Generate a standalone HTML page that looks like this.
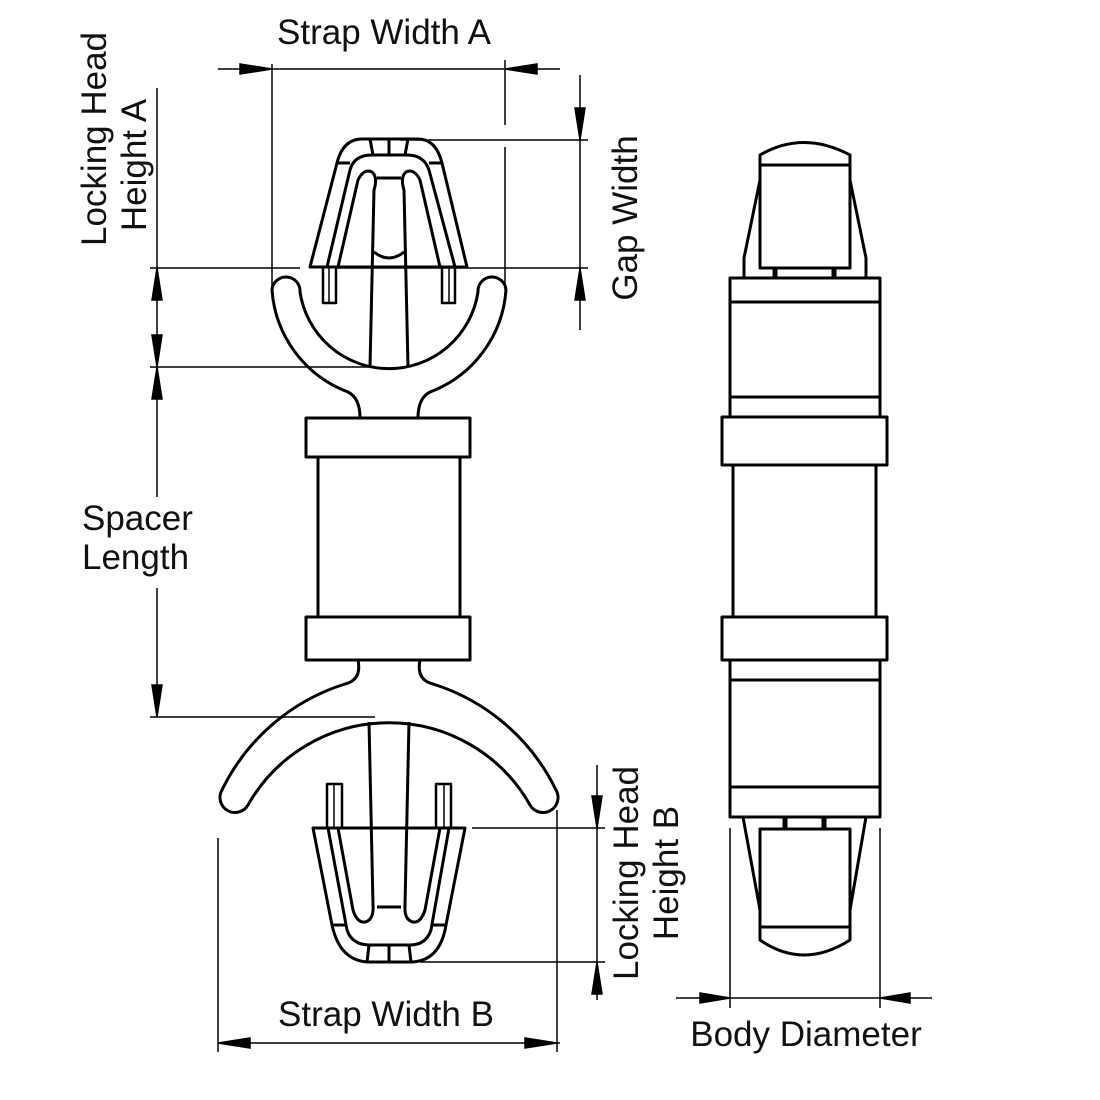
<!DOCTYPE html>
<html><head><meta charset="utf-8"><style>
html,body{margin:0;padding:0;background:#fff;width:1100px;height:1100px;overflow:hidden}
text{font-family:"Liberation Sans",sans-serif;font-size:35px;fill:#111}
</style></head><body>
<svg width="1100" height="1100" viewBox="0 0 1100 1100" xmlns="http://www.w3.org/2000/svg">
<g fill="none" stroke="#000" stroke-width="1.5">
<line x1="218" y1="69" x2="560" y2="69"/>
<line x1="272" y1="64" x2="272" y2="290"/>
<line x1="505" y1="60" x2="505" y2="125"/><line x1="505" y1="147" x2="505" y2="290"/>
<line x1="580" y1="75" x2="580" y2="330"/>
<line x1="400" y1="140" x2="588" y2="140"/>
<line x1="150" y1="268" x2="300" y2="268"/><line x1="335" y1="268" x2="588" y2="268"/>
<line x1="157" y1="88" x2="157" y2="497"/><line x1="157" y1="588" x2="157" y2="717"/>
<line x1="150" y1="367" x2="372" y2="367"/>
<line x1="150" y1="717" x2="375" y2="717"/>
<line x1="597" y1="765" x2="597" y2="1000"/>
<line x1="472" y1="828" x2="605" y2="828"/>
<line x1="420" y1="962" x2="605" y2="962"/>
<line x1="218" y1="1043" x2="560" y2="1043"/>
<line x1="218" y1="838" x2="218" y2="1052"/>
<line x1="557" y1="810" x2="557" y2="1052"/>
<line x1="730" y1="828" x2="730" y2="1008"/>
<line x1="880" y1="828" x2="880" y2="1008"/>
<line x1="676" y1="998" x2="932" y2="998"/>
</g>
<g stroke="#000" stroke-width="1.5" fill="#000">
<path d="M240,64 L272,69 L240,74z"/><path d="M537,64 L505,69 L537,74z"/>
<path d="M575,108 L580,140 L585,108z"/><path d="M575,300 L580,268 L585,300z"/>
<path d="M152,300 L157,268 L162,300z"/><path d="M152,335 L157,367 L162,335z"/>
<path d="M152,399 L157,367 L162,399z"/><path d="M152,685 L157,717 L162,685z"/>
<path d="M592,796 L597,828 L602,796z"/><path d="M592,994 L597,962 L602,994z"/>
<path d="M250,1038 L218,1043 L250,1048z"/><path d="M525,1038 L557,1043 L525,1048z"/>
<path d="M700,993 L730,998 L700,1003z"/><path d="M910,993 L880,998 L910,1003z"/>
</g>
<text x="384" y="44" text-anchor="middle">Strap Width A</text>
<text x="386" y="1026" text-anchor="middle">Strap Width B</text>
<text x="806" y="1046" text-anchor="middle">Body Diameter</text>
<text x="82" y="530">Spacer</text>
<text x="82" y="569">Length</text>
<text transform="translate(106,139) rotate(-90)" text-anchor="middle">Locking Head</text>
<text transform="translate(146,165) rotate(-90)" text-anchor="middle">Height A</text>
<text transform="translate(637,218) rotate(-90)" text-anchor="middle">Gap Width</text>
<text transform="translate(638,873) rotate(-90)" text-anchor="middle">Locking Head</text>
<text transform="translate(678,873) rotate(-90)" text-anchor="middle">Height B</text>

<g fill="none" stroke="#000" stroke-width="3" stroke-linejoin="round">
<path d="M310,267 L337,163 Q343,139 362,139 L418,139 Q436,139 442,163 L467,267 Z"/>
<path d="M327,267 L350,170 Q354,155 372,155 L407,155 Q424,155 429,170 L455,267"/>
<line x1="337" y1="163" x2="350" y2="163"/><line x1="429" y1="163" x2="442" y2="163"/>
<line x1="370" y1="139" x2="373" y2="155"/><line x1="389" y1="139" x2="389" y2="155"/><line x1="408" y1="139" x2="405" y2="155"/>
<path d="M338,267 L358,180 Q364,168 372,172 Q378,177 374,190 L370,367"/>
<path d="M440,267 L420,180 Q414,168 406,172 Q400,177 404,190 L408,367"/>
<line x1="377" y1="178" x2="401" y2="178"/>
<path d="M374,252 Q389,264 404,252"/>
<rect x="323" y="267" width="13" height="36" stroke-width="2.5"/>
<rect x="442" y="267" width="13" height="36" stroke-width="2.5"/>
<line x1="329" y1="267" x2="329" y2="303" stroke-width="1.5"/><line x1="449" y1="267" x2="449" y2="303" stroke-width="1.5"/>
<path d="M300,292 A90,90 0 0 0 478,292 A14,14 0 0 1 506,290 A118,118 0 0 1 430,392 Q418,398 418,418 L360,418 Q360,398 348,392 A118,118 0 0 1 272,290 A14,14 0 0 1 300,292 Z"/>
<rect x="306" y="418" width="164" height="39"/>
<rect x="318" y="457" width="142" height="160"/>
<rect x="306" y="617" width="164" height="43"/>
<path d="M358,660 Q362,680 345,684 A205,205 0 0 0 222,790 A14,14 0 0 0 248,805 A162,162 0 0 1 530,805 A14,14 0 0 0 556,790 A205,205 0 0 0 433,684 Q416,680 420,660"/>
<path d="M313,828 L332,925 Q340,962 370,962 L410,962 Q440,962 446,925 L465,828 Z"/>
<path d="M328,828 L347,930 Q352,945 370,945 L410,945 Q426,945 431,930 L449,828"/>
<line x1="332" y1="925" x2="347" y2="925"/><line x1="431" y1="925" x2="446" y2="925"/>
<line x1="369" y1="945" x2="367" y2="962"/><line x1="389" y1="945" x2="389" y2="962"/><line x1="409" y1="945" x2="411" y2="962"/>
<path d="M338,828 L353,910 Q357,923 365,922 Q374,920 373,905 L369,722"/>
<path d="M440,828 L425,910 Q421,923 413,922 Q404,920 405,905 L409,722"/>
<line x1="372" y1="828" x2="406" y2="828"/><line x1="377" y1="907" x2="401" y2="907"/>
<rect x="327" y="784" width="15" height="44" stroke-width="2.5"/>
<rect x="436" y="784" width="15" height="44" stroke-width="2.5"/>
<line x1="334" y1="784" x2="334" y2="828" stroke-width="1.5"/><line x1="444" y1="784" x2="444" y2="828" stroke-width="1.5"/>

<path d="M760,155 Q803,130 850,155 L850,165 L760,165 Z"/>
<rect x="760" y="165" width="90" height="103"/>
<path d="M760,180 L744,258 L744,278 M850,180 L866,258 L866,278"/>
<line x1="775" y1="268" x2="775" y2="278" stroke-width="5"/><line x1="834" y1="268" x2="834" y2="278" stroke-width="5"/>
<rect x="730" y="278" width="150" height="139"/>
<line x1="730" y1="302" x2="880" y2="302"/><line x1="730" y1="397" x2="880" y2="397"/>
<rect x="722" y="417" width="165" height="48"/>
<rect x="733" y="465" width="143" height="152"/>
<rect x="722" y="617" width="165" height="43"/>
<rect x="730" y="660" width="150" height="157"/>
<line x1="730" y1="680" x2="880" y2="680"/><line x1="730" y1="787" x2="880" y2="787"/>
<line x1="785" y1="817" x2="785" y2="829" stroke-width="5"/><line x1="824" y1="817" x2="824" y2="829" stroke-width="5"/>
<rect x="760" y="829" width="90" height="98"/>
<path d="M743,817 L760,910 M866,817 L850,910"/>
<path d="M760,927 L760,940 Q803,970 850,940 L850,927"/>
</g>
</svg>
</body></html>
